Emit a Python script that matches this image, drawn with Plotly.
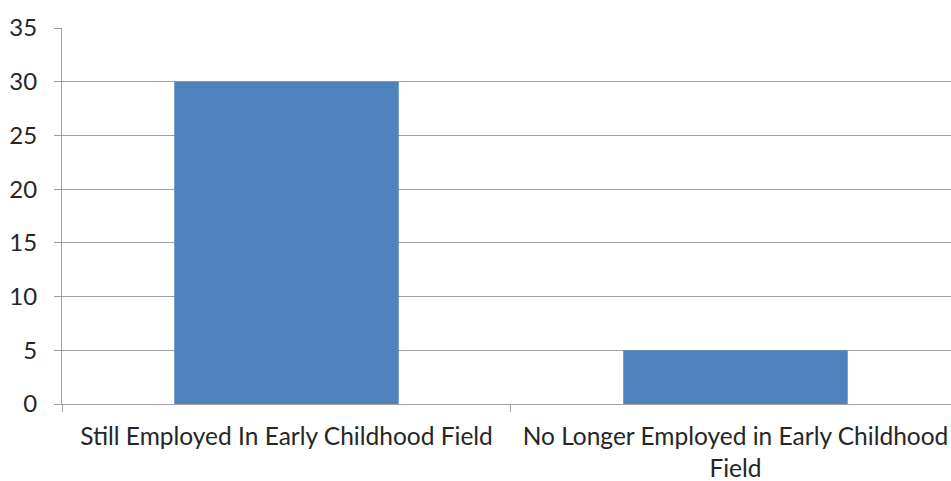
import plotly.graph_objects as go

categories = ["Still Employed In Early Childhood Field",
              "No Longer Employed in Early Childhood<br>Field"]
values = [30, 5]
y_ticks = [0, 5, 10, 15, 20, 25, 30, 35]

fig = go.Figure(
    go.Bar(
        x=categories,
        y=values,
        width=0.5,
        marker=dict(color="#4F81BD", line=dict(width=0)),
    )
)

fig.update_layout(
    width=951,
    height=481,
    margin=dict(l=62, r=0, t=28, b=77),
    paper_bgcolor="white",
    plot_bgcolor="white",
    showlegend=False,
    font=dict(family="Lato, Open Sans, sans-serif", size=24, color="#262626"),
)

fig.update_xaxes(
    range=[-0.5, 1.48],
    automargin=False,
    showgrid=False,
    showline=True,
    linecolor="#a0a0a0",
    linewidth=1,
    ticks="outside",
    tickson="boundaries",
    ticklen=7,
    tickcolor="#a0a0a0",
    tickfont=dict(size=24.5),
    ticklabelstandoff=11,
)

fig.update_yaxes(
    range=[0, 35],
    automargin=False,
    tickvals=y_ticks,
    showgrid=True,
    gridcolor="#a0a0a0",
    gridwidth=1,
    showline=True,
    linecolor="#a0a0a0",
    linewidth=1,
    ticks="outside",
    ticklen=7,
    tickcolor="#a0a0a0",
    tickfont=dict(size=24),
    ticklabelstandoff=12,
    zeroline=False,
)

fig.write_html("out.html")
